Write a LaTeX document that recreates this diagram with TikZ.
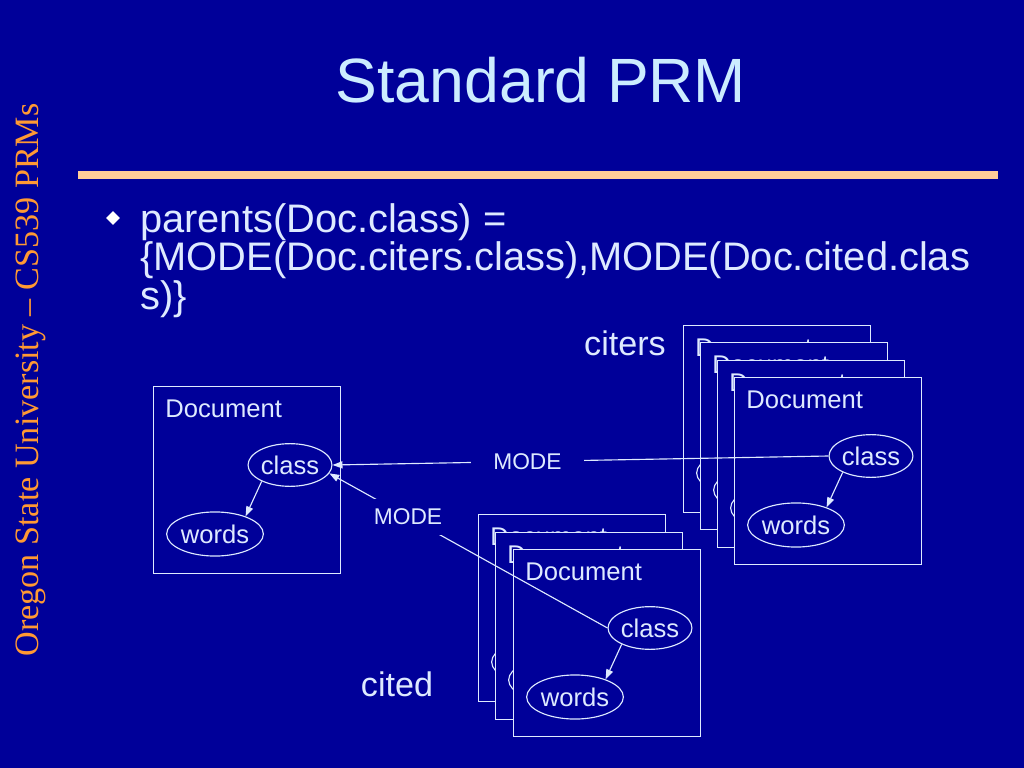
\documentclass[tikz,border=0pt]{standalone}
\usepackage{fontspec}
\setmainfont{Liberation Sans}
\newfontfamily\vertfont[Ligatures=TeX]{Liberation Serif}
\usepackage{tikz}
\usetikzlibrary{shapes.geometric, arrows.meta, positioning}

\definecolor{slidebg}{RGB}{0,0,153}
\definecolor{titlefg}{RGB}{204,236,255}
\definecolor{textfg}{RGB}{222,234,255}
\definecolor{rulefg}{RGB}{255,204,153}
\definecolor{sidefg}{RGB}{255,153,51}

% one document box with its two attributes
\newcommand{\docbox}[3]{%
    \node[docframe] (#1) at (#2,#3) {};
    \node[doctitle] at ([shift={(12,31)}]#1.north west) {Document};
    \node[attr, minimum width=59pt, minimum height=30pt] (#1-class)
        at ([shift={(137,79)}]#1.north west) {class};
    \node[attr, minimum width=68pt, minimum height=31pt] (#1-words)
        at ([shift={(62,148)}]#1.north west) {words};
    \draw[arrow] (#1-class.210) -- (#1-words.30);
}

\begin{document}
\begin{tikzpicture}[
    x=0.703125pt, y=-0.703125pt,
    % Styles
    docframe/.style={
        rectangle,
        draw=textfg,
        fill=slidebg,
        line width=1pt,
        minimum width=131.5pt,
        minimum height=131.5pt,
        inner sep=0pt,
        anchor=north west
    },
    doctitle/.style={
        anchor=base west,
        inner sep=0pt,
        text=textfg,
        font=\fontsize{18}{21}\selectfont
    },
    attr/.style={
        ellipse,
        draw=textfg,
        line width=0.8pt,
        inner sep=0pt,
        text=textfg,
        font=\fontsize{18}{21}\selectfont
    },
    arrow/.style={
        -{Triangle[length=7pt,width=5pt]},
        draw=textfg,
        line width=0.8pt
    },
    modelbl/.style={
        fill=slidebg,
        text=textfg,
        font=\fontsize{16}{19}\selectfont
    },
    bodytext/.style={
        anchor=base west,
        inner sep=0pt,
        text=textfg,
        font=\fontsize{28}{32}\selectfont
    },
    stacklbl/.style={
        anchor=base,
        inner sep=0pt,
        text=textfg,
        font=\fontsize{24}{28}\selectfont
    }
]

% Slide background
\fill[slidebg] (0,0) rectangle (1024,768);
\useasboundingbox (0,0) rectangle (1024,768);

% Title and rule
\node[anchor=base, inner sep=0pt, text=titlefg, font=\fontsize{44}{50}\selectfont]
    (title) at (541,103) {Standard PRM};
\draw[rulefg, line width=5.6pt] (78,175) -- (998,175);

% Side text
\node[anchor=base, rotate=90, inner sep=0pt, text=sidefg,
      font=\vertfont\fontsize{24}{28}\selectfont]
    (side) at (38,380) {Oregon State University – CS539 PRMs};

% Bullet
\node[diamond, fill=white, inner sep=0pt, minimum size=10pt] (bullet) at (113,218) {};
\node[bodytext] (line1) at (140,233) {parents(Doc.class) =};
\node[bodytext] (line2) at (140,271) {\{MODE(Doc.citers.class),MODE(Doc.cited.clas};
\node[bodytext] (line3) at (140,309) {s)\}};

% The document itself
\docbox{doc}{153}{386}

% Citing documents
\foreach \i/\x/\y in {1/683/325, 2/700/342, 3/717/360, 4/734/377}
    {\docbox{citer\i}{\x}{\y}}
\node[stacklbl] (citers) at (625,355) {citers};

% Cited documents
\foreach \i/\x/\y in {1/478/514, 2/495/532, 3/513/549}
    {\docbox{cited\i}{\x}{\y}}
\node[stacklbl] (cited) at (397,696) {cited};

% MODE connectors
\draw[arrow] (citer4-class.west) -- node[modelbl, pos=0.607, inner xsep=16pt, inner ysep=2pt] {MODE} (doc-class.east);
\draw[arrow] (cited3-class.west) -- node[modelbl, pos=0.717, inner sep=7pt] {MODE} (doc-class.-12);

\end{tikzpicture}
\end{document}
